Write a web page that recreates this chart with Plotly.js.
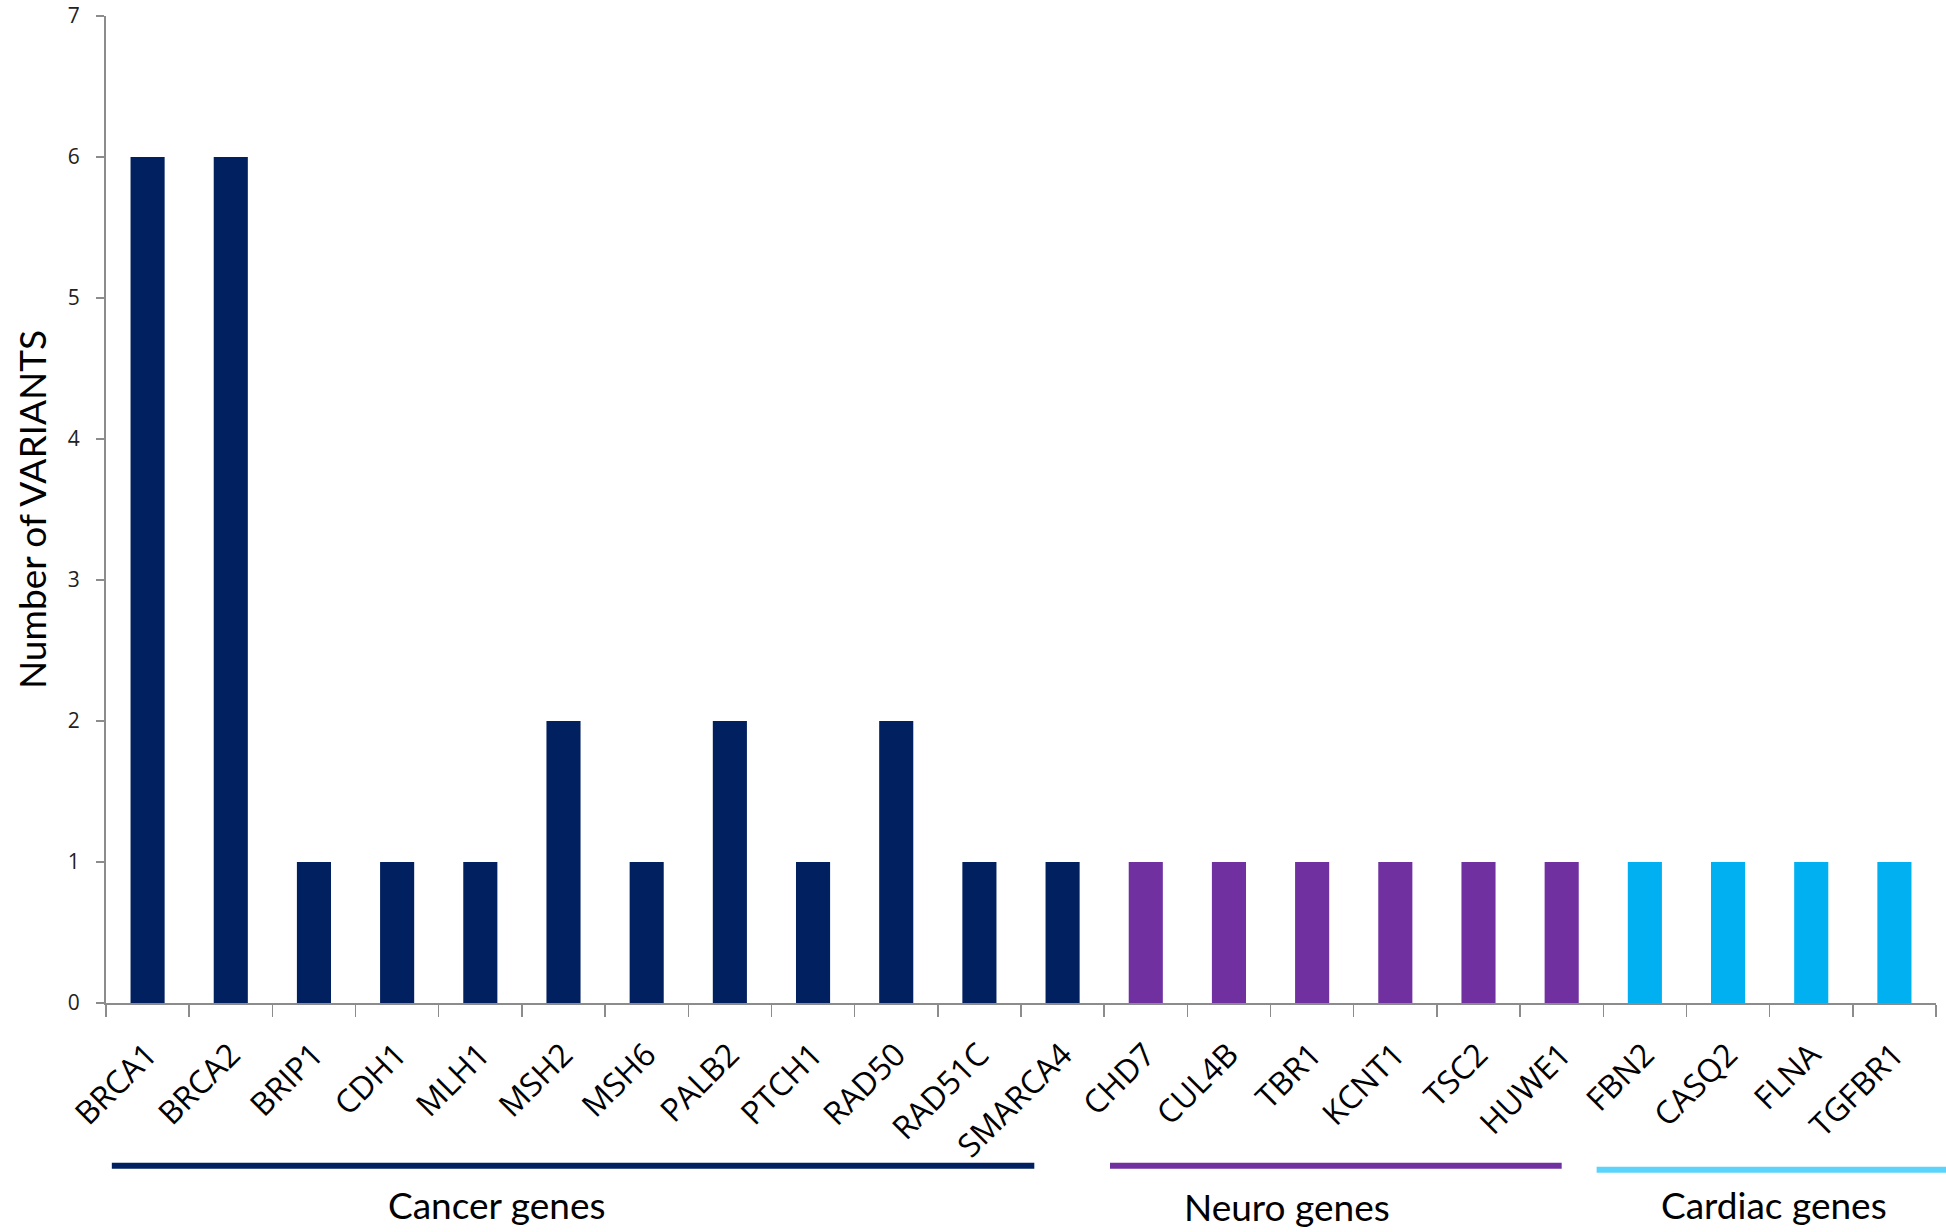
<!DOCTYPE html>
<html>
<head>
<meta charset="utf-8">
<script src="https://cdn.plot.ly/plotly-3.0.1.min.js"></script>
<style>
  html, body { margin: 0; padding: 0; background: #ffffff; }
  #chart { width: 1946px; height: 1232px; }
</style>
</head>
<body>
<div id="chart"></div>
<script>
// ---- data ----
var genes = ['BRCA1', 'BRCA2', 'BRIP1', 'CDH1', 'MLH1', 'MSH2', 'MSH6', 'PALB2', 'PTCH1', 'RAD50', 'RAD51C', 'SMARCA4',
             'CHD7', 'CUL4B', 'TBR1', 'KCNT1', 'TSC2', 'HUWE1',
             'FBN2', 'CASQ2', 'FLNA', 'TGFBR1'];
var variants = [6, 6, 1, 1, 1, 2, 1, 2, 1, 2, 1, 1,
                1, 1, 1, 1, 1, 1,
                1, 1, 1, 1];
var geneGroup = ['Cancer', 'Cancer', 'Cancer', 'Cancer', 'Cancer', 'Cancer', 'Cancer', 'Cancer', 'Cancer', 'Cancer', 'Cancer', 'Cancer',
                 'Neuro', 'Neuro', 'Neuro', 'Neuro', 'Neuro', 'Neuro',
                 'Cardiac', 'Cardiac', 'Cardiac', 'Cardiac'];
var groupKeys = ['Cancer', 'Neuro', 'Cardiac'];
var groupLabels = ['Cancer genes', 'Neuro genes', 'Cardiac genes'];
var yTickVals = [0, 1, 2, 3, 4, 5, 6, 7];

// ---- styles ----
var barColors = { Cancer: '#002060', Neuro: '#7030A0', Cardiac: '#00B0F0' };
var lineColors = { Cancer: '#002060', Neuro: '#7030A0', Cardiac: '#5BD3FB' };
// bracket extents in category-index units, and label centres
var bracketFrom = { Cancer: -0.43, Neuro: 11.57, Cardiac: 17.42 };
var bracketTo = { Cancer: 10.66, Neuro: 17.0, Cardiac: 21.7 };
var bracketY = { Cancer: -0.165, Neuro: -0.165, Cardiac: -0.169 };
var labelX = { Cancer: 4.2, Neuro: 13.7, Cardiac: 19.55 };
var labelY = { Cancer: -0.204, Neuro: -0.2065, Cardiac: -0.204 };

var N = genes.length;
function idxToPaper(i) { return (i + 0.5) / N; }

var trace = {
  type: 'bar',
  x: genes,
  y: variants,
  marker: { color: geneGroup.map(function (g) { return barColors[g]; }), line: { width: 0 } },
  hoverinfo: 'x+y'
};

var shapes = groupKeys.map(function (g) {
  return {
    type: 'line', xref: 'paper', yref: 'paper',
    x0: idxToPaper(bracketFrom[g]), x1: idxToPaper(bracketTo[g]),
    y0: bracketY[g], y1: bracketY[g],
    line: { color: lineColors[g], width: 6 }
  };
});

var annotations = groupKeys.map(function (g, i) {
  return {
    xref: 'paper', yref: 'paper',
    x: idxToPaper(labelX[g]), y: labelY[g],
    xanchor: 'center', yanchor: 'middle',
    text: groupLabels[i], showarrow: false,
    font: { family: 'Lato, sans-serif', size: 37, color: '#000000' }
  };
});

var layout = {
  width: 1946, height: 1232,
  paper_bgcolor: '#ffffff', plot_bgcolor: '#ffffff',
  margin: { l: 106, r: 10, t: 16, b: 229 },
  showlegend: false,
  bargap: 0.59,
  xaxis: {
    type: 'category',
    tickangle: -45,
    tickson: 'boundaries',
    ticks: 'outside', ticklen: 12, tickwidth: 1.5, tickcolor: '#8c8c8c',
    showline: true, linecolor: '#8c8c8c', linewidth: 2,
    showgrid: false, zeroline: false,
    ticklabelstandoff: 18,
    tickfont: { family: 'Open Sans, sans-serif', size: 32, color: '#000000' }
  },
  yaxis: {
    range: [0, 7],
    tickvals: yTickVals,
    ticks: 'outside', ticklen: 8, tickwidth: 1.5, tickcolor: '#8c8c8c',
    showline: true, linecolor: '#8c8c8c', linewidth: 2,
    showgrid: false, zeroline: false,
    ticklabelstandoff: 12,
    tickfont: { family: 'Open Sans, sans-serif', size: 21, color: '#222222' },
    title: { text: 'Number of VARIANTS', standoff: 10,
             font: { family: 'Lato, sans-serif', size: 37, color: '#000000' } }
  },
  shapes: shapes,
  annotations: annotations
};

Plotly.newPlot('chart', [trace], layout, { displayModeBar: false, staticPlot: true });
</script>
</body>
</html>
